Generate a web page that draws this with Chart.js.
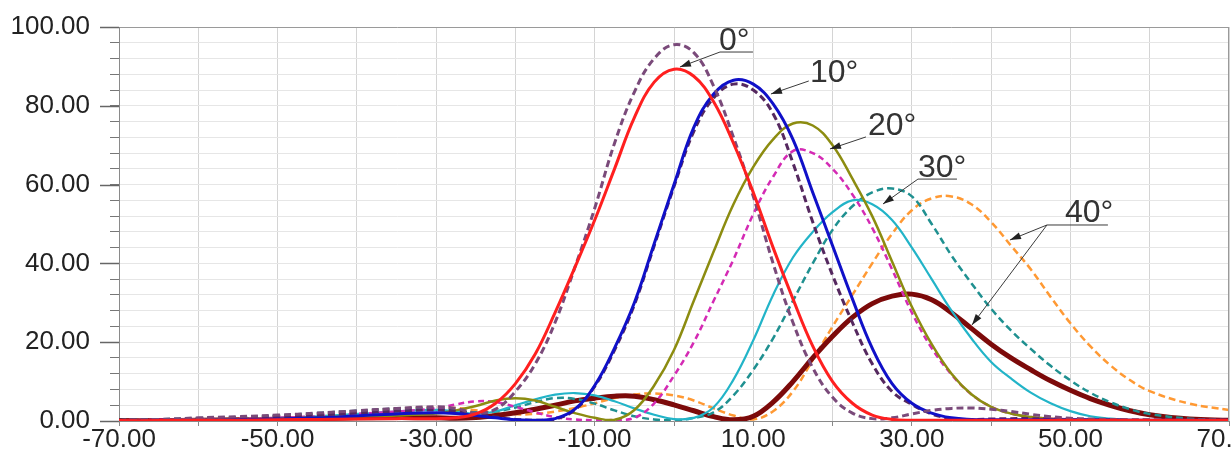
<!DOCTYPE html>
<html>
<head>
<meta charset="utf-8">
<style>
  html, body { margin: 0; padding: 0; background: #fff; overflow: hidden; }
  #wrap { width: 1232px; height: 451px; position: relative; }
</style>
<script src="https://cdn.jsdelivr.net/npm/chart.js@4.4.1/dist/chart.umd.min.js"></script>
</head>
<body>
<div id="wrap"><canvas id="c" width="1232" height="451"></canvas></div>
<script>
// Sample positions along the horizontal axis
const xs = [-70,-65,-60,-55,-50,-45,-40,-35,-30,-27.5,-25,-22.5,-20,-17.5,-15,-12.5,-10,-7.5,-5,-2.5,
            0,2.5,5,7.5,10,12.5,15,17.5,20,22.5,25,27.5,30,32.5,35,37.5,40,42.5,45,47.5,50,52.5,55,57.5,60,65,70];

// 0° pair
const solid0  = [0.1,0.1,0.2,0.2,0.3,0.4,0.5,0.6,0.6,0.8,1.8,4.5,9.5,17,27.5,39,51,64,77,86,
                 89.3,87.5,81,70.5,58,44,31,19,10,4.5,1.5,0.4,0.2,0.2,0.2,0.2,0.2,0.2,0.2,0.2,0.2,0.2,0.2,0.2,0.2,0.2,0.2];
const dashed0 = [0.2,0.4,0.8,1.1,1.5,2,2.6,3.2,3.6,3.2,2,3,7.5,14.5,25,39,54,70.5,83.5,92,
                 95.5,93.5,85,72,57,40,25,13.5,6,2,0.6,0.8,1.8,2.7,3.2,3.3,3,2.4,1.7,1.1,0.7,0.5,0.4,0.3,0.3,0.2,0.2];
// 10° pair
const solid10  = [0.1,0.1,0.2,0.3,0.5,0.8,1.3,1.8,2.1,1.9,1.4,0.8,0.3,0.2,0.6,3,9,18.5,30,45,
                  60,74.5,83,86.5,85.5,80.5,71.5,58,44.5,31,18.5,9.5,4.5,2,0.8,0.4,0.3,0.3,0.3,0.3,0.3,0.3,0.3,0.2,0.2,0.2,0.2];
const dashed10 = [0.2,0.3,0.5,0.8,1.1,1.5,2,2.5,2.8,2.5,1.8,1,0.4,0.2,0.5,2.8,8.8,18,29.5,44.5,
                  59.5,73.5,82,85.5,84,78,65.5,50.5,37,25,14.5,7.5,4.2,1.8,0.6,0.4,0.5,0.6,0.6,0.5,0.4,0.3,0.3,0.2,0.2,0.2,0.1];
// 20° pair
const solid20  = [0.2,0.2,0.3,0.4,0.6,0.9,1.2,1.4,1.9,2.7,3.8,5.2,5.8,5.2,3.6,2,0.8,0.3,2.8,9,
                  18,30.5,43,55,64.5,71.5,75.5,75,70,61.5,52,40.5,29,19.5,12,6.8,3.6,1.9,1,0.6,0.4,0.3,0.3,0.2,0.2,0.2,0.1];
const dashed20 = [0.2,0.3,0.4,0.6,0.8,1.2,1.8,2.4,3.2,4.2,5,4.8,3.6,2.2,1,0.4,0.2,0.3,0.8,4.5,
                  11.5,20,30.5,41,52.5,62,68.5,68,64,57.5,49,38.5,27.5,18.5,11.8,6.8,3.6,1.9,1,0.6,0.4,0.3,0.3,0.2,0.2,0.2,0.1];
// 30° pair
const solid30  = [0.1,0.2,0.3,0.5,0.8,1.2,1.8,2.4,2.8,2.4,1.8,2.4,4,5.5,6.7,7.1,6.5,5,3.2,1.6,
                  0.5,0.8,3.5,10.5,20.5,32,41.5,48,53,56,55,51,44,36,28,21,15,10.8,7.2,4.5,2.5,1.2,0.6,0.3,0.2,0.1,0.1];
const dashed30 = [0.2,0.4,0.7,1,1.4,2,2.6,3.1,3.2,2.7,2.2,2.4,3.4,4.8,5.8,5.6,4.4,2.7,1.2,0.4,
                  0.2,0.8,2.2,6.5,13,21,30.5,40,48.5,54.5,58,59,57,50,42,35,28.5,23,18.3,14,10.3,7.2,4.8,3,1.8,0.6,0.2];
// 40° pair
const solid40  = [0.1,0.1,0.2,0.3,0.4,0.6,0.8,0.9,0.8,0.7,0.9,1.4,2.1,3,4,5.1,5.8,6.3,6.3,5.4,
                  4.1,2.6,1.1,0.3,1.2,4.8,10,16,21.5,26.3,29.8,31.7,32.2,30.8,27.5,23.5,19.5,16,13,10.2,7.8,5.7,4,2.6,1.6,0.5,0.2];
const dashed40 = [0.2,0.3,0.5,0.8,1.2,1.8,2.5,3.1,3.5,3.3,2.7,2.1,1.7,1.8,2.4,3.3,4.5,5.8,6.7,7,
                  6.5,5.2,3.2,1.4,0.4,2.5,7.5,15.5,24,32,40,47.5,53.5,56.5,57,55,50.5,44.5,38.5,31.5,24.8,19,14.2,10.4,7.6,4.4,2.8];

// Axis ranges and label steps
const xMin = -70, xMax = 70, xStep = 10, xLabelEvery = 20;
const yMin = 0, yMax = 100, yStep = 4, yLabelEvery = 20;

// Callout labels, placed in data units
const callouts = [
  { text: '0°',  at: [5.67, 94.2],  under: [5.80, 9.96, 93.65],  from: [5.80, 93.65],  tips: [[0.75, 89.85]] },
  { text: '10°', at: [17.15, 86.0], under: null,                 from: [17.0, 86.3],   tips: [[12.23, 83.0]] },
  { text: '20°', at: [24.46, 72.6], under: null,                 from: [24.21, 72.1],  tips: [[19.67, 69.04]] },
  { text: '30°', at: [30.77, 61.9], under: [30.77, 35.69, 61.4], from: [30.77, 61.4],  tips: [[26.36, 55.08]] },
  { text: '40°', at: [49.31, 50.5], under: [47.04, 54.73, 49.75],from: [47.04, 49.75], tips: [[42.37, 45.94], [37.58, 24.37]] }
];

const pts = ys => xs.map((x, i) => ({ x: x, y: ys[i] }));

function series(values, color, width, dash) {
  return {
    data: pts(values),
    borderColor: color,
    borderWidth: width,
    borderDash: dash || [],
    pointRadius: 0,
    fill: false,
    tension: 0.4,
    borderCapStyle: 'butt',
    borderJoinStyle: 'round'
  };
}

const datasets = [
  series(solid0,   '#ff1f1f', 3),
  series(dashed0,  '#7a4a7a', 3, [7, 4]),
  series(solid10,  '#1010c8', 3),
  series(dashed10, '#55285f', 3, [7, 4]),
  series(solid20,  '#8c8c10', 2.5),
  series(dashed20, '#d42ab4', 2.5, [6, 4]),
  series(solid30,  '#22b4c8', 2.2),
  series(dashed30, '#1f9090', 2.5, [7, 4]),
  series(solid40,  '#7c0a0a', 5),
  series(dashed40, '#ff9933', 2.5, [7, 4])
];

const FONT = '"Liberation Sans", Arial, sans-serif';

// Long ticks at labelled values, right border and callouts
const decorations = {
  id: 'decorations',
  afterDraw(chart) {
    const { ctx, chartArea: a, scales: { x, y } } = chart;
    ctx.save();
    // long ticks on the value axis
    ctx.strokeStyle = '#666';
    ctx.lineWidth = 1.5;
    for (let v = yMin; v <= yMax; v += yLabelEvery) {
      const py = Math.round(y.getPixelForValue(v)) + 0.5;
      ctx.beginPath();
      ctx.moveTo(a.left - 19, py);
      ctx.lineTo(a.left, py);
      ctx.stroke();
    }
    // right frame edge
    ctx.strokeStyle = '#9a9a9a';
    ctx.lineWidth = 1;
    ctx.beginPath();
    ctx.moveTo(a.right - 0.5, a.top);
    ctx.lineTo(a.right - 0.5, a.bottom);
    ctx.stroke();

    // callouts
    const P = (p) => [x.getPixelForValue(p[0]), y.getPixelForValue(p[1])];
    ctx.strokeStyle = '#3a3a3a';
    ctx.fillStyle = '#333';
    ctx.lineWidth = 1;
    ctx.font = '32px ' + FONT;
    ctx.textBaseline = 'alphabetic';
    ctx.textAlign = 'left';
    callouts.forEach(c => {
      const t = P(c.at);
      ctx.fillText(c.text, t[0], t[1]);
      if (c.under) {
        const u0 = P([c.under[0], c.under[2]]);
        const u1 = P([c.under[1], c.under[2]]);
        ctx.beginPath();
        ctx.moveTo(u0[0], u0[1]);
        ctx.lineTo(u1[0], u1[1]);
        ctx.stroke();
      }
      const f = P(c.from);
      c.tips.forEach(tp => {
        const e = P(tp);
        ctx.beginPath();
        ctx.moveTo(f[0], f[1]);
        ctx.lineTo(e[0], e[1]);
        ctx.stroke();
        const ang = Math.atan2(e[1] - f[1], e[0] - f[0]);
        const L = 11, W = 3.5;
        const bx = e[0] - L * Math.cos(ang), by = e[1] - L * Math.sin(ang);
        ctx.beginPath();
        ctx.moveTo(e[0], e[1]);
        ctx.lineTo(bx + W * Math.sin(ang), by - W * Math.cos(ang));
        ctx.lineTo(bx - W * Math.sin(ang), by + W * Math.cos(ang));
        ctx.closePath();
        ctx.fillStyle = '#222';
        ctx.fill();
        ctx.fillStyle = '#333';
      });
    });
    ctx.restore();
  }
};

new Chart(document.getElementById('c'), {
  type: 'line',
  data: { datasets },
  plugins: [decorations],
  options: {
    responsive: false,
    animation: false,
    devicePixelRatio: 1,
    layout: { padding: { top: 27, right: 3, left: 0, bottom: 0 } },
    plugins: { legend: { display: false }, tooltip: { enabled: false } },
    scales: {
      x: {
        type: 'linear',
        min: xMin, max: xMax,
        afterFit(s) { s.height = 30; s.paddingLeft = 0; s.paddingRight = 0; },
        ticks: {
          stepSize: xStep,
          autoSkip: false,
          maxRotation: 0,
          padding: -2,
          color: '#222',
          font: { family: FONT, size: 26 },
          callback: v => ((v - xMin) % xLabelEvery === 0 ? v.toFixed(2) : '')
        },
        grid: { color: '#d4d4d4', lineWidth: 1, tickLength: 5, tickColor: '#888' },
        border: { color: '#8a8a8a', width: 1 }
      },
      y: {
        min: yMin, max: yMax,
        afterFit(s) { s.width = 119; s.paddingTop = 0; s.paddingBottom = 0; },
        ticks: {
          stepSize: yStep,
          autoSkip: false,
          padding: 20,
          color: '#222',
          font: { family: FONT, size: 26 },
          callback: v => (v % yLabelEvery === 0 ? v.toFixed(2) : '')
        },
        grid: {
          color: c => (c.tick && c.tick.value === yMax ? '#9a9a9a' : '#e6e6e6'),
          lineWidth: 1, tickLength: 9, tickColor: '#777'
        },
        border: { color: '#8a8a8a', width: 1 }
      }
    }
  }
});
</script>
</body>
</html>
